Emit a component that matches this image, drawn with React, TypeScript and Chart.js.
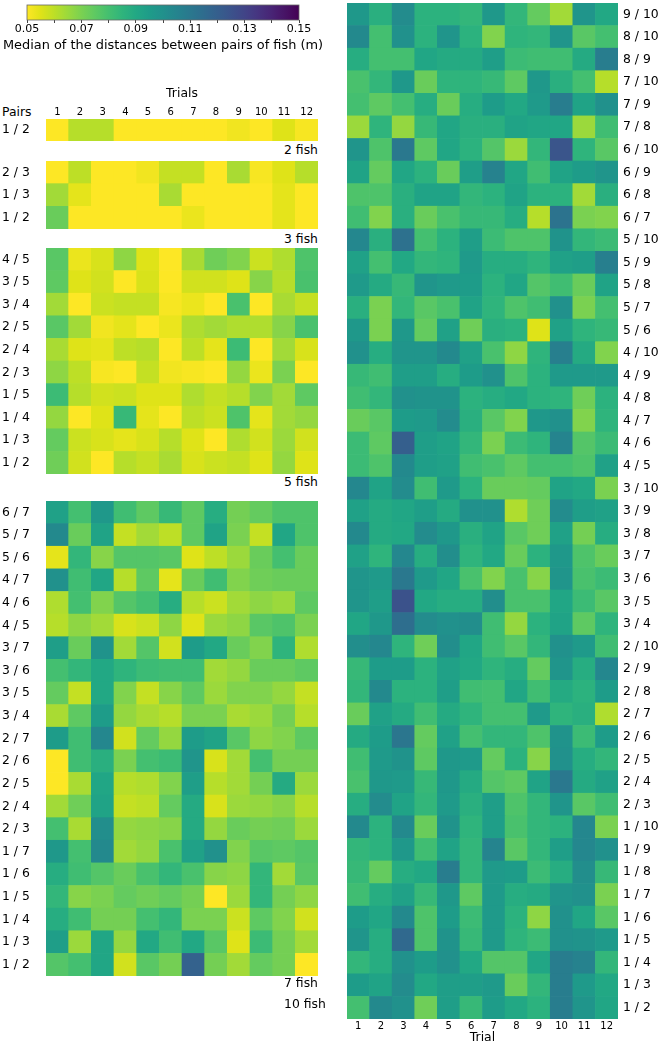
import React, { useEffect, useRef } from "react";
import { Chart, registerables } from "chart.js";

Chart.register(...registerables);

const FONT = "DejaVu Sans";
const VMIN = 0.05;
const VMAX = 0.15;

const trials = ["1", "2", "3", "4", "5", "6", "7", "8", "9", "10", "11", "12"];
const colorbarTitle = "Median of the distances between pairs of fish (m)";

// ---- 2 fish ----
const pairs2 = ["1 / 2"];
const values2 = [
  [0.05, 0.061, 0.061, 0.05, 0.05, 0.05, 0.05, 0.05, 0.052, 0.05, 0.055, 0.051],
];

// ---- 3 fish ----
const pairs3 = ["2 / 3", "1 / 3", "1 / 2"];
const values3 = [
  [0.05, 0.06, 0.05, 0.05, 0.052, 0.059, 0.059, 0.05, 0.063, 0.051, 0.055, 0.061],
  [0.064, 0.054, 0.05, 0.05, 0.05, 0.063, 0.05, 0.05, 0.05, 0.05, 0.054, 0.05],
  [0.073, 0.05, 0.05, 0.05, 0.05, 0.05, 0.053, 0.05, 0.05, 0.05, 0.054, 0.05],
];

// ---- 5 fish ----
const pairs5 = ["4 / 5", "3 / 5", "3 / 4", "2 / 5", "2 / 4", "2 / 3", "1 / 5", "1 / 4", "1 / 3", "1 / 2"];
const values5 = [
  [0.076, 0.053, 0.056, 0.067, 0.055, 0.05, 0.063, 0.072, 0.069, 0.058, 0.062, 0.078],
  [0.075, 0.055, 0.057, 0.05, 0.056, 0.05, 0.057, 0.057, 0.055, 0.068, 0.061, 0.079],
  [0.064, 0.05, 0.058, 0.059, 0.059, 0.051, 0.053, 0.05, 0.079, 0.05, 0.063, 0.059],
  [0.076, 0.064, 0.052, 0.054, 0.05, 0.053, 0.062, 0.064, 0.062, 0.062, 0.068, 0.079],
  [0.063, 0.055, 0.054, 0.06, 0.061, 0.05, 0.06, 0.054, 0.082, 0.05, 0.064, 0.056],
  [0.067, 0.06, 0.051, 0.05, 0.059, 0.052, 0.051, 0.05, 0.066, 0.053, 0.07, 0.05],
  [0.082, 0.061, 0.057, 0.058, 0.055, 0.055, 0.062, 0.059, 0.061, 0.069, 0.064, 0.075],
  [0.066, 0.05, 0.055, 0.083, 0.054, 0.05, 0.06, 0.058, 0.078, 0.054, 0.064, 0.066],
  [0.074, 0.058, 0.056, 0.054, 0.056, 0.061, 0.055, 0.05, 0.062, 0.057, 0.065, 0.057],
  [0.072, 0.057, 0.05, 0.061, 0.059, 0.063, 0.056, 0.058, 0.059, 0.055, 0.066, 0.055],
];

// ---- 7 fish ----
const pairs7 = [
  "6 / 7", "5 / 7", "5 / 6", "4 / 7", "4 / 6", "4 / 5", "3 / 7", "3 / 6", "3 / 5", "3 / 4",
  "2 / 7", "2 / 6", "2 / 5", "2 / 4", "2 / 3", "1 / 7", "1 / 6", "1 / 5", "1 / 4", "1 / 3", "1 / 2",
];
const values7 = [
  [0.093, 0.08, 0.097, 0.081, 0.075, 0.083, 0.075, 0.088, 0.071, 0.074, 0.078, 0.078],
  [0.103, 0.073, 0.092, 0.059, 0.064, 0.06, 0.075, 0.092, 0.07, 0.059, 0.091, 0.078],
  [0.054, 0.084, 0.068, 0.077, 0.077, 0.076, 0.055, 0.06, 0.065, 0.073, 0.08, 0.073],
  [0.1, 0.081, 0.091, 0.061, 0.075, 0.054, 0.073, 0.081, 0.069, 0.072, 0.073, 0.073],
  [0.062, 0.08, 0.069, 0.077, 0.08, 0.088, 0.061, 0.058, 0.064, 0.067, 0.065, 0.075],
  [0.061, 0.067, 0.064, 0.056, 0.058, 0.067, 0.055, 0.065, 0.067, 0.076, 0.078, 0.07],
  [0.094, 0.073, 0.099, 0.064, 0.077, 0.057, 0.095, 0.09, 0.073, 0.069, 0.085, 0.062],
  [0.08, 0.084, 0.09, 0.085, 0.082, 0.081, 0.081, 0.064, 0.066, 0.073, 0.073, 0.075],
  [0.074, 0.059, 0.09, 0.069, 0.059, 0.068, 0.075, 0.065, 0.069, 0.069, 0.066, 0.059],
  [0.063, 0.075, 0.095, 0.066, 0.063, 0.061, 0.07, 0.07, 0.063, 0.065, 0.071, 0.061],
  [0.095, 0.081, 0.104, 0.057, 0.074, 0.066, 0.095, 0.092, 0.076, 0.067, 0.069, 0.075],
  [0.05, 0.081, 0.087, 0.07, 0.08, 0.082, 0.098, 0.056, 0.064, 0.08, 0.071, 0.071],
  [0.05, 0.063, 0.091, 0.061, 0.062, 0.069, 0.094, 0.061, 0.064, 0.071, 0.089, 0.065],
  [0.064, 0.072, 0.092, 0.059, 0.06, 0.074, 0.089, 0.056, 0.065, 0.066, 0.068, 0.061],
  [0.08, 0.063, 0.101, 0.066, 0.067, 0.068, 0.089, 0.066, 0.073, 0.071, 0.072, 0.065],
  [0.097, 0.08, 0.103, 0.064, 0.066, 0.079, 0.093, 0.1, 0.069, 0.076, 0.075, 0.077],
  [0.088, 0.081, 0.077, 0.073, 0.079, 0.084, 0.079, 0.068, 0.067, 0.084, 0.064, 0.076],
  [0.084, 0.068, 0.07, 0.074, 0.072, 0.074, 0.071, 0.05, 0.065, 0.084, 0.071, 0.067],
  [0.088, 0.081, 0.071, 0.071, 0.08, 0.084, 0.07, 0.07, 0.058, 0.075, 0.069, 0.057],
  [0.094, 0.065, 0.091, 0.066, 0.09, 0.081, 0.09, 0.076, 0.055, 0.082, 0.071, 0.064],
  [0.077, 0.08, 0.091, 0.057, 0.076, 0.071, 0.119, 0.071, 0.064, 0.074, 0.071, 0.05],
];

// ---- 10 fish ----
const pairs10 = [
  "9 / 10", "8 / 10", "8 / 9", "7 / 10", "7 / 9", "7 / 8", "6 / 10", "6 / 9", "6 / 8", "6 / 7",
  "5 / 10", "5 / 9", "5 / 8", "5 / 7", "5 / 6", "4 / 10", "4 / 9", "4 / 8", "4 / 7", "4 / 6",
  "4 / 5", "3 / 10", "3 / 9", "3 / 8", "3 / 7", "3 / 6", "3 / 5", "3 / 4", "2 / 10", "2 / 9",
  "2 / 8", "2 / 7", "2 / 6", "2 / 5", "2 / 4", "2 / 3", "1 / 10", "1 / 9", "1 / 8", "1 / 7",
  "1 / 6", "1 / 5", "1 / 4", "1 / 3", "1 / 2",
];
const values10 = [
  [0.097, 0.087, 0.102, 0.086, 0.086, 0.084, 0.097, 0.084, 0.074, 0.064, 0.098, 0.09],
  [0.103, 0.08, 0.1, 0.086, 0.098, 0.086, 0.069, 0.085, 0.084, 0.098, 0.076, 0.08],
  [0.088, 0.08, 0.08, 0.091, 0.089, 0.089, 0.094, 0.082, 0.081, 0.081, 0.089, 0.108],
  [0.079, 0.084, 0.097, 0.073, 0.085, 0.085, 0.083, 0.075, 0.097, 0.087, 0.08, 0.061],
  [0.08, 0.075, 0.08, 0.088, 0.073, 0.088, 0.095, 0.09, 0.096, 0.108, 0.092, 0.1],
  [0.065, 0.085, 0.066, 0.083, 0.091, 0.087, 0.087, 0.092, 0.091, 0.091, 0.065, 0.081],
  [0.098, 0.078, 0.11, 0.075, 0.091, 0.086, 0.077, 0.065, 0.084, 0.124, 0.085, 0.076],
  [0.092, 0.074, 0.091, 0.086, 0.073, 0.094, 0.106, 0.091, 0.081, 0.092, 0.095, 0.098],
  [0.078, 0.078, 0.087, 0.092, 0.092, 0.084, 0.086, 0.092, 0.086, 0.086, 0.064, 0.087],
  [0.081, 0.069, 0.087, 0.073, 0.079, 0.083, 0.083, 0.088, 0.061, 0.112, 0.07, 0.069],
  [0.104, 0.087, 0.113, 0.08, 0.086, 0.094, 0.082, 0.078, 0.078, 0.099, 0.084, 0.082],
  [0.093, 0.08, 0.09, 0.084, 0.085, 0.096, 0.088, 0.088, 0.085, 0.093, 0.094, 0.107],
  [0.096, 0.089, 0.083, 0.098, 0.096, 0.095, 0.086, 0.091, 0.077, 0.081, 0.073, 0.092],
  [0.087, 0.07, 0.084, 0.076, 0.079, 0.092, 0.085, 0.078, 0.081, 0.1, 0.07, 0.08],
  [0.097, 0.07, 0.097, 0.074, 0.093, 0.072, 0.087, 0.086, 0.055, 0.093, 0.085, 0.083],
  [0.1, 0.088, 0.098, 0.098, 0.103, 0.093, 0.079, 0.067, 0.085, 0.107, 0.089, 0.069],
  [0.083, 0.081, 0.094, 0.094, 0.088, 0.095, 0.1, 0.078, 0.086, 0.096, 0.096, 0.096],
  [0.081, 0.084, 0.1, 0.099, 0.099, 0.086, 0.088, 0.09, 0.086, 0.085, 0.072, 0.086],
  [0.073, 0.076, 0.095, 0.096, 0.102, 0.087, 0.076, 0.069, 0.097, 0.1, 0.069, 0.085],
  [0.082, 0.075, 0.12, 0.094, 0.092, 0.084, 0.07, 0.082, 0.085, 0.105, 0.077, 0.082],
  [0.082, 0.078, 0.103, 0.094, 0.093, 0.081, 0.079, 0.075, 0.08, 0.08, 0.078, 0.093],
  [0.104, 0.092, 0.102, 0.081, 0.096, 0.086, 0.073, 0.073, 0.074, 0.092, 0.09, 0.07],
  [0.093, 0.089, 0.091, 0.094, 0.089, 0.1, 0.1, 0.062, 0.072, 0.102, 0.094, 0.093],
  [0.103, 0.089, 0.09, 0.102, 0.097, 0.087, 0.092, 0.076, 0.072, 0.093, 0.071, 0.088],
  [0.093, 0.085, 0.104, 0.088, 0.101, 0.085, 0.09, 0.073, 0.086, 0.097, 0.078, 0.073],
  [0.098, 0.096, 0.11, 0.096, 0.091, 0.079, 0.069, 0.079, 0.068, 0.098, 0.079, 0.082],
  [0.098, 0.094, 0.125, 0.09, 0.088, 0.088, 0.101, 0.079, 0.079, 0.091, 0.082, 0.076],
  [0.091, 0.097, 0.114, 0.102, 0.1, 0.101, 0.081, 0.066, 0.086, 0.092, 0.075, 0.085],
  [0.101, 0.104, 0.085, 0.072, 0.101, 0.091, 0.081, 0.076, 0.084, 0.1, 0.096, 0.081],
  [0.083, 0.095, 0.095, 0.086, 0.093, 0.09, 0.085, 0.088, 0.074, 0.098, 0.088, 0.104],
  [0.084, 0.103, 0.086, 0.086, 0.094, 0.081, 0.08, 0.091, 0.081, 0.089, 0.086, 0.095],
  [0.073, 0.093, 0.089, 0.081, 0.089, 0.085, 0.08, 0.08, 0.096, 0.085, 0.087, 0.062],
  [0.089, 0.095, 0.111, 0.074, 0.093, 0.08, 0.084, 0.084, 0.078, 0.099, 0.082, 0.095],
  [0.081, 0.096, 0.099, 0.075, 0.097, 0.096, 0.074, 0.086, 0.068, 0.1, 0.088, 0.084],
  [0.079, 0.097, 0.096, 0.083, 0.097, 0.089, 0.077, 0.075, 0.092, 0.11, 0.089, 0.093],
  [0.088, 0.102, 0.092, 0.084, 0.096, 0.087, 0.094, 0.078, 0.084, 0.098, 0.076, 0.081],
  [0.103, 0.086, 0.103, 0.073, 0.099, 0.085, 0.094, 0.079, 0.084, 0.086, 0.104, 0.07],
  [0.084, 0.086, 0.097, 0.081, 0.092, 0.084, 0.105, 0.076, 0.084, 0.094, 0.104, 0.1],
  [0.083, 0.074, 0.088, 0.09, 0.108, 0.084, 0.096, 0.095, 0.082, 0.088, 0.101, 0.083],
  [0.081, 0.088, 0.093, 0.083, 0.097, 0.075, 0.096, 0.088, 0.089, 0.098, 0.1, 0.07],
  [0.095, 0.091, 0.103, 0.078, 0.095, 0.082, 0.096, 0.086, 0.067, 0.1, 0.091, 0.076],
  [0.098, 0.088, 0.116, 0.078, 0.099, 0.083, 0.096, 0.085, 0.082, 0.1, 0.099, 0.096],
  [0.084, 0.088, 0.1, 0.095, 0.1, 0.09, 0.077, 0.077, 0.091, 0.108, 0.106, 0.084],
  [0.095, 0.092, 0.102, 0.09, 0.094, 0.094, 0.096, 0.073, 0.084, 0.108, 0.096, 0.09],
  [0.08, 0.103, 0.1, 0.072, 0.094, 0.083, 0.095, 0.09, 0.086, 0.108, 0.098, 0.091],
];

// viridis colormap stops (t = 0 .. 1)
const VIRIDIS = [
  "#440154", "#471365", "#482475", "#463480", "#414487", "#3b528b", "#355f8d",
  "#2f6c8e", "#2a788e", "#25848e", "#21918c", "#1e9c89", "#22a884", "#2fb47c",
  "#44bf70", "#5ec962", "#7ad151", "#9bd93c", "#bddf26", "#dfe318", "#fde725",
];

function hexToRgb(h: string) {
  return [parseInt(h.slice(1, 3), 16), parseInt(h.slice(3, 5), 16), parseInt(h.slice(5, 7), 16)];
}

function viridis(t: number): string {
  const tt = Math.max(0, Math.min(1, t));
  const p = tt * (VIRIDIS.length - 1);
  const i = Math.min(Math.floor(p), VIRIDIS.length - 2);
  const f = p - i;
  const a = hexToRgb(VIRIDIS[i]);
  const b = hexToRgb(VIRIDIS[i + 1]);
  const c = a.map((v, k) => Math.round(v + (b[k] - v) * f));
  return `rgb(${c[0]},${c[1]},${c[2]})`;
}

// reversed viridis: low distance -> yellow, high -> purple
function heatColor(v: number): string {
  return viridis(1 - (v - VMIN) / (VMAX - VMIN));
}

const LABEL_SIZE = 12.4;

type HeatProps = {
  rows: string[];
  values: number[][];
  left: number;
  top: number;
  width: number;
  height: number;
  yPos: "left" | "right";
  yWidth: number;
  xPos?: "top" | "bottom";
  xHeight?: number;
  xTitle?: string;
  xTitlePad?: { top: number; bottom: number };
  xTickSize?: number;
};

function Heatmap(props: HeatProps) {
  const ref = useRef<HTMLCanvasElement | null>(null);
  useEffect(() => {
    const { rows, values, yPos, yWidth, xPos, xHeight, xTitle, xTitlePad, xTickSize } = props;
    const n = rows.length;
    const bottomUp = rows.slice().reverse();
    const datasets = bottomUp.map((label, k) => {
      const r = n - 1 - k;
      return {
        label,
        data: values[r].map(() => 1),
        backgroundColor: values[r].map(heatColor),
        borderWidth: 0,
        barPercentage: 1,
        categoryPercentage: 1,
      };
    });
    const chart = new Chart(ref.current as HTMLCanvasElement, {
      type: "bar",
      data: { labels: trials, datasets },
      options: {
        animation: false,
        responsive: false,
        events: [],
        layout: { padding: 0 },
        plugins: { legend: { display: false }, tooltip: { enabled: false } },
        scales: {
          x: {
            type: "category",
            stacked: true,
            display: !!xPos,
            position: xPos || "bottom",
            grid: { display: false, drawTicks: false },
            border: { display: false },
            ticks: {
              color: "#000",
              font: { family: FONT, size: xTickSize || 10 },
              padding: 1,
              maxRotation: 0,
              autoSkip: false,
            },
            title: {
              display: !!xTitle,
              text: xTitle || "",
              color: "#000",
              font: { family: FONT, size: LABEL_SIZE, lineHeight: 0.9 },
              padding: xTitlePad || { top: 0, bottom: 0 },
            },
            afterFit: (s: any) => {
              if (xHeight !== undefined) s.height = xHeight;
              s.paddingLeft = 0;
              s.paddingRight = 0;
            },
          },
          y: {
            type: "linear",
            stacked: true,
            min: 0,
            max: n,
            position: yPos,
            grid: { display: false, drawTicks: false },
            border: { display: false },
            afterBuildTicks: (s: any) => {
              s.ticks = bottomUp.map((_, i) => ({ value: i + 0.5 }));
            },
            ticks: {
              autoSkip: false,
              color: "#000",
              font: { family: FONT, size: LABEL_SIZE },
              crossAlign: yPos === "left" ? "far" : "near",
              padding: yPos === "left" ? 0 : 5,
              callback: (_v: any, i: number) => bottomUp[i],
            },
            afterFit: (s: any) => {
              s.width = yWidth;
              s.paddingTop = 0;
              s.paddingBottom = 0;
            },
          },
        },
      } as any,
    });
    return () => chart.destroy();
  }, []);
  return (
    <canvas
      ref={ref}
      width={props.width}
      height={props.height}
      style={{ position: "absolute", left: props.left, top: props.top, width: props.width, height: props.height }}
    />
  );
}

const colorbarTicks = [0.05, 0.06, 0.07, 0.08, 0.09, 0.1, 0.11, 0.12, 0.13, 0.14, 0.15];

function Colorbar() {
  const ref = useRef<HTMLCanvasElement | null>(null);
  useEffect(() => {
    const gradientPlugin = {
      id: "gradientFill",
      beforeDatasetsDraw(chart: any) {
        const { ctx, chartArea, scales } = chart;
        const xs = scales.x;
        const x0 = xs.getPixelForValue(VMIN);
        const x1 = xs.getPixelForValue(VMAX);
        const g = ctx.createLinearGradient(x0, 0, x1, 0);
        for (let i = 0; i <= 40; i++) {
          const t = i / 40;
          g.addColorStop(t, heatColor(VMIN + t * (VMAX - VMIN)));
        }
        ctx.save();
        ctx.fillStyle = g;
        ctx.fillRect(x0, chartArea.top, x1 - x0, chartArea.bottom - chartArea.top);
        ctx.strokeStyle = "#666";
        ctx.lineWidth = 0.8;
        ctx.strokeRect(x0, chartArea.top, x1 - x0, chartArea.bottom - chartArea.top);
        ctx.restore();
      },
    };
    const chart = new Chart(ref.current as HTMLCanvasElement, {
      type: "scatter",
      data: { datasets: [{ data: [] }] },
      plugins: [gradientPlugin],
      options: {
        animation: false,
        responsive: false,
        events: [],
        layout: { padding: { left: 27, right: 31, top: 5, bottom: 0 } },
        plugins: { legend: { display: false }, tooltip: { enabled: false } },
        scales: {
          x: {
            type: "linear",
            min: VMIN,
            max: VMAX,
            position: "bottom",
            afterBuildTicks: (s: any) => {
              s.ticks = colorbarTicks.map((v) => ({ value: v }));
            },
            grid: { display: true, drawOnChartArea: false, drawTicks: true, tickLength: 3, color: "#444" },
            border: { display: false },
            ticks: {
              autoSkip: false,
              maxRotation: 0,
              color: "#000",
              padding: 0,
              font: { family: FONT, size: 11 },
              callback: (_v: any, i: number) => (i % 2 === 0 ? colorbarTicks[i].toFixed(2) : ""),
            },
            afterFit: (s: any) => {
              s.height = 36;
            },
          },
          y: { display: false, min: 0, max: 1 },
        },
      } as any,
    });
    return () => chart.destroy();
  }, []);
  return (
    <canvas ref={ref} width={330} height={56} style={{ position: "absolute", left: 0, top: 0, width: 330, height: 56 }} />
  );
}

function Label({
  text,
  left,
  cy,
  width,
  center,
  size,
}: {
  text: string;
  left: number;
  cy: number;
  width?: number;
  center?: boolean;
  size?: number;
}) {
  return (
    <div
      style={{
        position: "absolute",
        left,
        top: cy - 7,
        width,
        textAlign: center ? "center" : "left",
        fontFamily: FONT,
        fontSize: size || LABEL_SIZE,
        lineHeight: "14px",
        color: "#000",
        whiteSpace: "nowrap",
      }}
    >
      {text}
    </div>
  );
}

export default function App() {
  return (
    <div style={{ position: "absolute", left: 0, top: 0, width: 664, height: 1043, overflow: "hidden", background: "#fff" }}>
      <Colorbar />
      <Label text={colorbarTitle} left={-37} width={400} center cy={45} size={12.9} />
      <Label text="Pairs" left={2} cy={112} />
      <Heatmap
        rows={pairs2}
        values={values2}
        left={2}
        top={81}
        width={316}
        height={60}
        yPos="left"
        yWidth={44}
        xPos="top"
        xHeight={38}
        xTitle="Trials"
        xTitlePad={{ top: 7, bottom: 0 }}
      />
      <Label text="2 fish" left={284} cy={150} />
      <Heatmap rows={pairs3} values={values3} left={2} top={161} width={316} height={68} yPos="left" yWidth={44} />
      <Label text="3 fish" left={284} cy={239} />
      <Heatmap rows={pairs5} values={values5} left={2} top={248} width={316} height={226} yPos="left" yWidth={44} />
      <Label text="5 fish" left={284} cy={482} />
      <Heatmap rows={pairs7} values={values7} left={2} top={501} width={316} height={475} yPos="left" yWidth={44} />
      <Label text="7 fish" left={284} cy={983} />
      <Label text="10 fish" left={284} cy={1004} />
      <Heatmap
        rows={pairs10}
        values={values10}
        left={347}
        top={3}
        width={317}
        height={1040}
        yPos="right"
        yWidth={46}
        xPos="bottom"
        xHeight={24}
        xTitle="Trial"
        xTitlePad={{ top: 0, bottom: 0 }}
      />
    </div>
  );
}
